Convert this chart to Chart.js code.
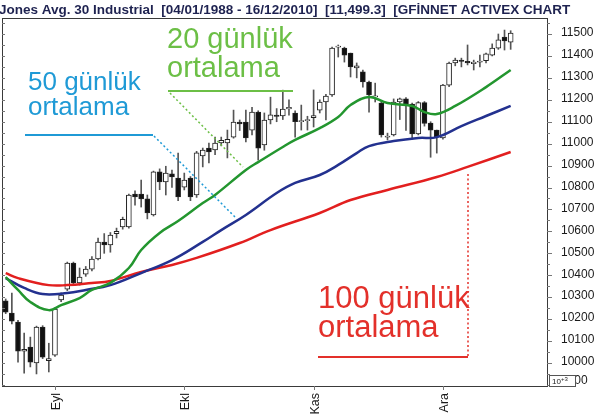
<!DOCTYPE html>
<html>
<head>
<meta charset="utf-8">
<script src="https://cdn.jsdelivr.net/npm/chart.js@4.4.1/dist/chart.umd.min.js"></script>
<style>
  html, body { margin: 0; padding: 0; background: #fff; }
  #wrap { position: relative; width: 600px; height: 414px; overflow: hidden; }
</style>
</head>
<body>
<div id="wrap"><canvas id="c" width="600" height="414"></canvas></div>
<script>
// ============== data ==============
// one candle per trading day, 20 Aug 2010 .. 16 Dec 2010 (index 0..82)
const opens = [
  10283, 10228, 10187, 10054, 10072, 10000, 10164, 10010, 10036, 10287,
  10337, 10456, 10365, 10405, 10428, 10474, 10551, 10538, 10590, 10620,
  10620, 10770, 10770, 10748, 10675, 10871, 10825, 10862, 10843, 10802,
  10843, 10766, 10944, 10980, 10971, 11003, 11003, 11030, 11098, 11098,
  11062, 11144, 10994, 11108, 11130, 11126, 11158, 11140, 11100, 11105,
  11118, 11153, 11190, 11222, 11440, 11436, 11413, 11345, 11327, 11281,
  11213, 11185, 11030, 11040, 11190, 11204, 11180, 11045, 11187, 11094,
  11062, 11026, 11267, 11368, 11381, 11375, 11365, 11372, 11378, 11404,
  11436, 11486, 11463
];
const highs = [
  10292, 10319, 10195, 10136, 10118, 10168, 10170, 10090, 10252, 10320,
  10460, 10460, 10433, 10440, 10485, 10570, 10590, 10595, 10615, 10665,
  10770, 10785, 10834, 10766, 10875, 10885, 10897, 10880, 10957, 10866,
  10850, 10965, 10980, 11003, 11030, 11030, 11062, 11153, 11108, 11153,
  11166, 11150, 11140, 11212, 11160, 11244, 11200, 11150, 11176, 11125,
  11245, 11200, 11225, 11440, 11450, 11440, 11413, 11368, 11336, 11285,
  11276, 11190, 11048, 11204, 11208, 11210, 11185, 11192, 11192, 11100,
  11062, 11270, 11372, 11390, 11390, 11450, 11381, 11404, 11413, 11455,
  11500, 11518, 11515
];
const lows = [
  10225, 10178, 10004, 9954, 9982, 9950, 10020, 9959, 10030, 10280,
  10330, 10360, 10355, 10395, 10420, 10470, 10500, 10505, 10570, 10610,
  10615, 10720, 10711, 10657, 10670, 10790, 10766, 10800, 10740, 10789,
  10740, 10755, 10894, 10912, 10950, 10990, 10935, 11025, 11060, 11008,
  11040, 10925, 10970, 11090, 11100, 11110, 11130, 11030, 11062, 11062,
  11076, 11140, 11108, 11215, 11395, 11372, 11304, 11300, 11258, 11144,
  11190, 11030, 11017, 11035, 11110, 11060, 11020, 11040, 11080, 10938,
  10957, 11020, 11260, 11355, 11350, 11359, 11336, 11350, 11368, 11400,
  11430, 11427, 11430
];
const closes = [
  10232, 10191, 10054, 10062, 10004, 10164, 10027, 10020, 10246, 10310,
  10456, 10365, 10392, 10428, 10474, 10551, 10538, 10583, 10600, 10655,
  10766, 10757, 10748, 10684, 10871, 10825, 10866, 10848, 10757, 10834,
  10757, 10958, 10971, 10962, 11003, 11015, 11020, 11098, 11090, 11026,
  11144, 10980, 11108, 11131, 11124, 11158, 11166, 11100, 11105, 11110,
  11128, 11190, 11217, 11436, 11445, 11404, 11350, 11355, 11281, 11222,
  11217, 11040, 11034, 11190, 11204, 11180, 11045, 11187, 11092, 11062,
  11030, 11267, 11368, 11381, 11375, 11368, 11372, 11376, 11410, 11436,
  11473, 11468, 11504
];

// moving averages: [day index, value]
const ma20Days = [0, 2, 4, 7, 9, 12, 14, 17, 20, 22, 25, 28, 32, 34, 39, 41, 45, 47, 51, 54, 56, 59, 62, 66, 68, 70, 73, 78, 82];
const ma20Vals = [10392, 10333, 10278, 10241, 10264, 10296, 10333, 10365, 10433, 10515, 10593, 10647, 10729, 10766, 10880, 10916, 10985, 11017, 11071, 11122, 11176, 11213, 11185, 11172, 11144, 11135, 11172, 11258, 11336];
const ma50Days = [0, 3, 6, 10, 13, 17, 22, 27, 32, 35, 39, 44, 47, 51, 54, 57, 59, 63, 67, 70, 74, 78, 82];
const ma50Vals = [10387, 10342, 10314, 10319, 10333, 10355, 10410, 10469, 10552, 10606, 10675, 10775, 10821, 10857, 10903, 10957, 10989, 11012, 11026, 11030, 11080, 11126, 11172];
const ma100Days = [0, 2, 7, 10, 14, 17, 22, 27, 31, 38, 43, 51, 56, 62, 70, 75, 82];
const ma100Vals = [10410, 10387, 10355, 10355, 10365, 10374, 10415, 10447, 10479, 10547, 10606, 10684, 10743, 10789, 10848, 10894, 10962];

// axes
const yTicks = [9900, 10000, 10100, 10200, 10300, 10400, 10500, 10600, 10700, 10800, 10900, 11000, 11100, 11200, 11300, 11400, 11500];
const monthDays = [8, 29, 50, 71];
const monthLabels = ['Eyl', 'Ekl', 'Kas', 'Ara'];
const titleText = 'Jones Avg. 30 Industrial  [04/01/1988 - 16/12/2010]  [11,499.3]  [GFİNNET ACTIVEX CHART';

// ============== datasets ==============
const idx = opens.map((_, i) => i);
const wickData = idx.map(i => ({ x: i, y: [lows[i], highs[i]] }));
const bodyData = idx.map(i => {
  let a = opens[i], b = closes[i];
  if (Math.abs(a - b) < 5) b = a + (b >= a ? 5 : -5); // keep doji visible
  return { x: i, y: [a, b] };
});
const bodyFill = idx.map(i => closes[i] >= opens[i] ? '#ffffff' : '#111111');
const toPts = (d, v) => d.map((x, i) => ({ x, y: v[i] }));

const FONT = '"Liberation Sans", Arial, Helvetica, sans-serif';

// ============== overlay: frame, axis texts, notes ==============
const overlay = {
  id: 'overlay',
  afterDraw(chart) {
    const { ctx, chartArea: a, scales: { x, y } } = chart;
    ctx.save();

    // frame
    ctx.strokeStyle = '#3a3a3a';
    ctx.lineWidth = 1;
    ctx.strokeRect(a.left + 0.5, a.top + 0.5, a.right - a.left, a.bottom - a.top);

    // y axis (right side)
    ctx.fillStyle = '#1a1a1a';
    ctx.font = '12px ' + FONT;
    ctx.textAlign = 'left';
    ctx.textBaseline = 'middle';
    for (let v = 9900; v <= 11550; v += 50) {
      const py = Math.round(y.getPixelForValue(v)) + 0.5;
      const major = v % 100 === 0;
      ctx.beginPath();
      ctx.moveTo(a.right, py); ctx.lineTo(a.right + (major ? 5 : 3), py);
      ctx.moveTo(a.left, py); ctx.lineTo(a.left + 3, py);
      ctx.strokeStyle = '#777';
      ctx.stroke();
    }
    yTicks.forEach(v => ctx.fillText(String(v), a.right + 14, Math.min(y.getPixelForValue(v) - 1, a.bottom - 5)));

    // 10^+3 box
    ctx.fillStyle = '#fff';
    ctx.fillRect(a.right + 2, a.bottom - 11, 27, 11);
    ctx.strokeStyle = '#555';
    ctx.strokeRect(a.right + 2.5, a.bottom - 10.5, 26, 11);
    ctx.fillStyle = '#222';
    ctx.font = '8px ' + FONT;
    ctx.textBaseline = 'alphabetic';
    ctx.fillText('10', a.right + 5, a.bottom - 2);
    ctx.font = '6px ' + FONT;
    ctx.fillText('+3', a.right + 14, a.bottom - 5);

    // x axis months
    ctx.font = '12.5px ' + FONT;
    ctx.fillStyle = '#1a1a1a';
    monthDays.forEach((d, i) => {
      const px = Math.round(x.getPixelForValue(d)) + 0.5;
      ctx.beginPath();
      ctx.moveTo(px, a.bottom); ctx.lineTo(px, a.bottom + 4);
      ctx.strokeStyle = '#777';
      ctx.stroke();
      ctx.save();
      ctx.translate(px + 1, a.bottom + 7);
      ctx.rotate(-Math.PI / 2);
      ctx.textAlign = 'right';
      ctx.textBaseline = 'middle';
      ctx.fillText(monthLabels[i], 0, 0);
      ctx.restore();
    });

    // title
    ctx.font = 'bold 13.5px ' + FONT;
    ctx.fillStyle = '#1e2250';
    ctx.textAlign = 'left';
    ctx.textBaseline = 'alphabetic';
    ctx.fillText(titleText, -1, 14);

    // notes
    const note = (color, size, lines, tx, ty, gap, path, dots) => {
      ctx.fillStyle = color;
      ctx.font = size + 'px ' + FONT;
      lines.forEach((t, i) => ctx.fillText(t, tx, ty + i * gap));
      ctx.strokeStyle = color;
      ctx.lineWidth = 2;
      ctx.setLineDash([]);
      ctx.beginPath(); ctx.moveTo(path[0], path[1]); ctx.lineTo(path[2], path[3]); ctx.stroke();
      ctx.lineWidth = 1.5;
      ctx.setLineDash([2, 2.5]);
      ctx.beginPath(); ctx.moveTo(dots[0], dots[1]); ctx.lineTo(dots[2], dots[3]); ctx.stroke();
      ctx.setLineDash([]);
    };
    note('#6cbf46', 29, ['20 günlük', 'ortalama'], 167, 48, 29, [168, 91, 293, 91], [170, 93, 243, 167]);
    note('#1f9ad6', 26, ['50 günlük', 'ortalama'], 28, 90, 25, [25, 135, 153, 135], [154, 136, 236, 218]);
    note('#e3302a', 31, ['100 günlük', 'ortalama'], 318, 308, 29, [318, 357, 468, 357], [468, 356, 468, 172]);

    ctx.restore();
  }
};

// ============== chart ==============
Chart.defaults.font.family = FONT;
new Chart(document.getElementById('c').getContext('2d'), {
  type: 'bar',
  data: {
    datasets: [
      { type: 'line', label: 'MA20', data: toPts(ma20Days, ma20Vals), borderColor: '#23962f', borderWidth: 2.5, pointRadius: 0, tension: 0.4, order: 0 },
      { type: 'line', label: 'MA50', data: toPts(ma50Days, ma50Vals), borderColor: '#23318f', borderWidth: 2.5, pointRadius: 0, tension: 0.4, order: 0 },
      { type: 'line', label: 'MA100', data: toPts(ma100Days, ma100Vals), borderColor: '#e21f1f', borderWidth: 2.5, pointRadius: 0, tension: 0.4, order: 0 },
      { label: 'body', data: bodyData, backgroundColor: bodyFill, borderColor: '#222', borderWidth: 1, borderSkipped: false, barThickness: 5, grouped: false, order: 1 },
      { label: 'wick', data: wickData, backgroundColor: '#555', borderWidth: 0, barThickness: 1, grouped: false, order: 2 },
    ],
  },
  options: {
    responsive: false,
    animation: false,
    devicePixelRatio: 1,
    layout: { padding: { left: 2, right: 53, top: 18, bottom: 28 } },
    plugins: { legend: { display: false }, tooltip: { enabled: false } },
    scales: {
      x: { type: 'linear', min: -0.6, max: 87.9, offset: false, display: false },
      y: { type: 'linear', min: 9895, max: 11573, display: false },
    },
  },
  plugins: [overlay],
});
</script>
</body>
</html>
